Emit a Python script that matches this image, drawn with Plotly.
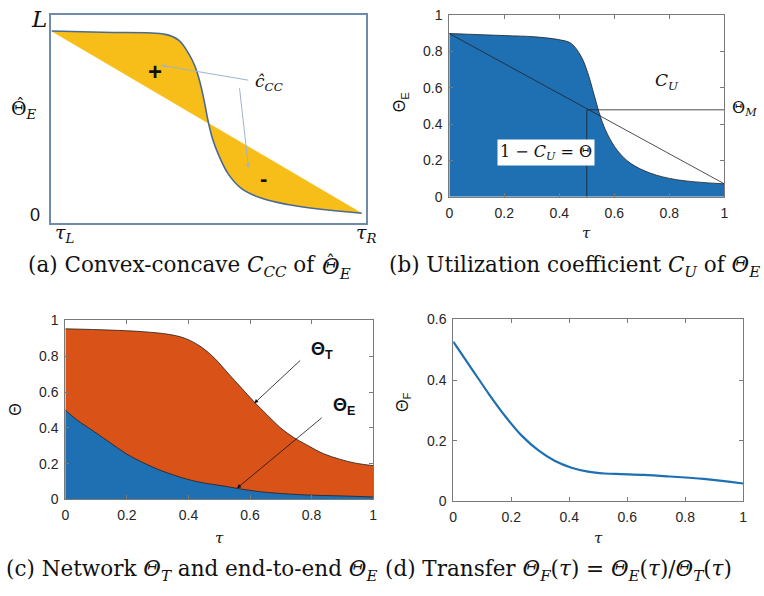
import plotly.graph_objects as go

# (a) convex-concave profile and its chord
tau_a = [0.0, 0.163, 0.362, 0.404, 0.435, 0.456, 0.472, 0.486, 0.498, 0.511,
         0.530, 0.561, 0.603, 0.666, 0.750, 0.855, 0.986]
theta_hat_e = [0.922, 0.916, 0.906, 0.878, 0.816, 0.753, 0.675, 0.581, 0.4875,
               0.409, 0.331, 0.2375, 0.167, 0.120, 0.089, 0.066, 0.047]
chord_a_x = [0.0, 0.986]
chord_a_y = [0.922, 0.047]

# (b) end-to-end throughput with chord and midpoint level
tau_b = [0.0, 0.2, 0.311, 0.407, 0.443, 0.479, 0.503, 0.527, 0.551, 0.575,
         0.611, 0.659, 0.731, 0.826, 1.0]
theta_e_b = [0.897, 0.886, 0.879, 0.861, 0.843, 0.772, 0.683, 0.558, 0.433,
             0.344, 0.255, 0.184, 0.130, 0.094, 0.071]
chord_b_x = [0.0, 1.0]
chord_b_y = [0.897, 0.071]
tau_mid = 0.5
theta_m = 0.478

# (c) network and end-to-end throughput
tau_c_t = [0.0, 0.144, 0.251, 0.336, 0.39, 0.443, 0.486, 0.528, 0.571, 0.614,
           0.656, 0.699, 0.742, 0.784, 0.838, 0.891, 0.945, 1.0]
theta_t = [0.953, 0.946, 0.937, 0.922, 0.899, 0.850, 0.787, 0.706, 0.625,
           0.544, 0.472, 0.400, 0.346, 0.305, 0.256, 0.225, 0.202, 0.189]
tau_c_e = [0.0, 0.037, 0.091, 0.144, 0.197, 0.251, 0.304, 0.358, 0.411, 0.464,
           0.518, 0.571, 0.624, 0.678, 0.784, 0.891, 1.0]
theta_e = [0.499, 0.445, 0.382, 0.319, 0.256, 0.207, 0.166, 0.133, 0.106,
           0.088, 0.074, 0.058, 0.045, 0.036, 0.025, 0.020, 0.014]

# (d) transfer function
tau_d = [0.0, 0.066, 0.123, 0.18, 0.237, 0.294, 0.351, 0.408, 0.465, 0.522,
         0.579, 0.658, 0.749, 0.863, 1.0]
theta_f = [0.527, 0.434, 0.354, 0.280, 0.216, 0.168, 0.133, 0.111, 0.098,
           0.092, 0.090, 0.0875, 0.082, 0.074, 0.059]

tick_vals = [0, 0.2, 0.4, 0.6, 0.8, 1]
tick_vals_d = [0, 0.2, 0.4, 0.6]

W, H = 764, 596


def px(x):
    return x / W


def py(y):
    return 1 - y / H


BLUE = "#1f6fb3"
ORANGE = "#d95319"
GOLD = "#f7be1a"
EDGE = "#222222"
SANS = "Liberation Sans, Arial, sans-serif"
SERIF = "DejaVu Serif, serif"

fig = go.Figure()

# ---- (a)
fig.add_trace(go.Scatter(x=chord_a_x, y=chord_a_y, mode="lines",
                         line=dict(color=GOLD, width=0.5), xaxis="x", yaxis="y",
                         hoverinfo="skip"))
fig.add_trace(go.Scatter(x=tau_a, y=theta_hat_e, mode="lines", fill="tonexty",
                         fillcolor=GOLD, line=dict(color="#4a6a92", width=1.6, shape="spline"),
                         xaxis="x", yaxis="y"))

# ---- (b)
fig.add_trace(go.Scatter(x=tau_b, y=theta_e_b, mode="lines", fill="tozeroy",
                         fillcolor=BLUE, line=dict(color=EDGE, width=0.8, shape="spline"),
                         xaxis="x2", yaxis="y2"))
fig.add_trace(go.Scatter(x=chord_b_x, y=chord_b_y, mode="lines",
                         line=dict(color=EDGE, width=0.8), xaxis="x2", yaxis="y2"))
fig.add_trace(go.Scatter(x=[tau_mid, tau_mid, 1.0], y=[0, theta_m, theta_m], mode="lines",
                         line=dict(color=EDGE, width=0.8), xaxis="x2", yaxis="y2"))

# ---- (c)
fig.add_trace(go.Scatter(x=tau_c_t, y=theta_t, mode="lines", fill="tozeroy",
                         fillcolor=ORANGE, line=dict(color=EDGE, width=0.8, shape="spline"),
                         xaxis="x3", yaxis="y3"))
fig.add_trace(go.Scatter(x=tau_c_e, y=theta_e, mode="lines", fill="tozeroy",
                         fillcolor=BLUE, line=dict(color=EDGE, width=0.8, shape="spline"),
                         xaxis="x3", yaxis="y3"))

# ---- (d)
fig.add_trace(go.Scatter(x=tau_d, y=theta_f, mode="lines",
                         line=dict(color=BLUE, width=2.2, shape="spline"),
                         xaxis="x4", yaxis="y4"))


def frame_axis(domain, rng, anchor, tickvals=None, show_ticks=True):
    d = dict(domain=domain, range=rng, anchor=anchor, showgrid=False, zeroline=False,
             showline=True, linecolor="#7a7a7a", linewidth=1, mirror="allticks" if show_ticks else True,
             fixedrange=True)
    if show_ticks:
        d.update(ticks="inside", ticklen=4, tickcolor="#7a7a7a", tickvals=tickvals,
                 ticklabelstandoff=3,
                 tickfont=dict(family=SANS, size=14, color="#262626"))
    else:
        d.update(showticklabels=False, ticks="")
    return d


xa = frame_axis([px(48), px(366)], [0, 1], "y", show_ticks=False)
ya = frame_axis([py(221), py(7)], [0, 1], "x", show_ticks=False)
xa.update(linecolor="#6d8bab", linewidth=1.5)
ya.update(linecolor="#6d8bab", linewidth=1.5)

fig.update_layout(
    width=W, height=H, margin=dict(l=0, r=0, t=0, b=0),
    paper_bgcolor="white", plot_bgcolor="white", showlegend=False,
    xaxis=xa, yaxis=ya,
    xaxis2=frame_axis([px(450), px(728)], [0, 1], "y2", tick_vals),
    yaxis2=frame_axis([py(194), py(7)], [0, 1], "x2", tick_vals),
    xaxis3=frame_axis([px(62), px(373)], [0, 1], "y3", tick_vals),
    yaxis3=frame_axis([py(505), py(321)], [0, 1], "x3", tick_vals),
    xaxis4=frame_axis([px(454), px(747)], [0, 1], "y4", tick_vals),
    yaxis4=frame_axis([py(507), py(320)], [0, 0.6], "x4", tick_vals_d),
)

ann = []


def text(x, y, s, size, family=SERIF, angle=0, xanchor="center", color="#111111", **kw):
    ann.append(dict(x=px(x), y=py(y), xref="paper", yref="paper", text=s, showarrow=False,
                    font=dict(family=family, size=size, color=color), textangle=angle,
                    xanchor=xanchor, yanchor="middle", **kw))


# (a) labels
text(35, 11, "<i>L</i>", 23)
text(5, 104, "Θ<sub><i>E</i></sub>", 19, xanchor="left")
text(17, 99, "ˆ", 17)
text(31, 213, "0", 18, family=SANS)
text(62, 232, "<i>τ<sub>L</sub></i>", 19)
text(366, 232, "<i>τ<sub>R</sub></i>", 19)
ann.append(dict(x=0.33, y=0.73, xref="x", yref="y", text="<b>+</b>", showarrow=False,
                font=dict(family=SANS, size=24, color="#111")))
ann.append(dict(x=0.673, y=0.215, xref="x", yref="y", text="<b>-</b>", showarrow=False,
                font=dict(family=SANS, size=22, color="#111")))
ann.append(dict(x=0.64, y=0.675, xref="x", yref="y", text="<i>ĉ<sub>CC</sub></i>",
                showarrow=False, xanchor="left", font=dict(family=SERIF, size=17, color="#111")))
for (tx, ty, hx, hy) in [(0.63, 0.685, 0.35, 0.757), (0.597, 0.655, 0.626, 0.266)]:
    ann.append(dict(x=hx, y=hy, ax=tx, ay=ty, xref="x", yref="y", axref="x", ayref="y",
                    text="", showarrow=True, arrowhead=2, arrowsize=0.8, arrowwidth=1,
                    arrowcolor="#9db4ca"))

# (b) labels
ann.append(dict(x=0.79, y=0.636, xref="x2", yref="y2", text="<i>C<sub>U</sub></i>",
                showarrow=False, font=dict(family=SERIF, size=17, color="#111")))
ann.append(dict(x=0.351, y=0.241, xref="x2", yref="y2", text="1 − <i>C<sub>U</sub></i> = Θ",
                showarrow=False, bgcolor="white", borderpad=2,
                font=dict(family=SERIF, size=16, color="#111")))
text(734, 103, "Θ<sub><i>M</i></sub>", 16, xanchor="left")
text(401, 97, "Θ<sub>E</sub>", 16, family=SANS, angle=-90)
text(589, 231, "<i>τ</i>", 15)

# (c) labels
ann.append(dict(x=0.614, y=0.537, ax=0.768, ay=0.784, xref="x3", yref="y3", axref="x3",
                ayref="y3", text="", showarrow=True, arrowhead=2, arrowsize=1,
                arrowwidth=0.8, arrowcolor="#111"))
ann.append(dict(x=0.558, y=0.063, ax=0.838, ay=0.463, xref="x3", yref="y3", axref="x3",
                ayref="y3", text="", showarrow=True, arrowhead=2, arrowsize=1,
                arrowwidth=0.8, arrowcolor="#111"))
ann.append(dict(x=0.835, y=0.83, xref="x3", yref="y3", text="<b>Θ<sub>T</sub></b>",
                showarrow=False, font=dict(family=SANS, size=18, color="#111")))
ann.append(dict(x=0.905, y=0.52, xref="x3", yref="y3", text="<b>Θ<sub>E</sub></b>",
                showarrow=False, font=dict(family=SANS, size=18, color="#111")))
text(12, 413, "Θ", 16, family=SANS, angle=-90)
text(218, 545, "<i>τ</i>", 15)

# (d) labels
text(403, 405, "Θ<sub>F</sub>", 16, family=SANS, angle=-90)
text(601, 545, "<i>τ</i>", 15)

# captions
CAP = 21.5
text(22, 266, "(a) Convex-concave <i>C<sub>CC</sub></i> of", CAP, xanchor="left")
text(319, 268, "<i>Θ<sub>E</sub></i>", CAP, xanchor="left")
text(330, 262, "ˆ", 18)
text(387, 266, "(b) Utilization coefficient <i>C<sub>U</sub></i> of <i>Θ<sub>E</sub></i>", CAP, xanchor="left")
text(0, 578, "(c) Network <i>Θ<sub>T</sub></i> and end-to-end <i>Θ<sub>E</sub></i>", CAP, xanchor="left")
text(383, 578, "(d) Transfer <i>Θ<sub>F</sub></i>(<i>τ</i>) = <i>Θ<sub>E</sub></i>(<i>τ</i>)/<i>Θ<sub>T</sub></i>(<i>τ</i>)",
     CAP, xanchor="left")

fig.update_layout(annotations=ann)
fig.write_html("out.html")
